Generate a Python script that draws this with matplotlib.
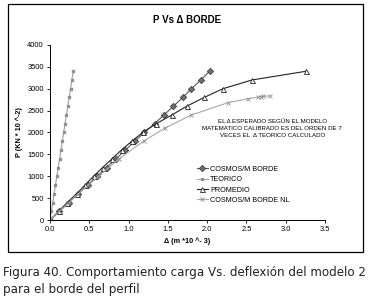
import matplotlib
matplotlib.use("Agg")
import matplotlib.pyplot as plt
from matplotlib.patches import Rectangle

# P load steps (KN * 10^-2)
p_steps = [0, 200, 400, 600, 800, 1000, 1200, 1400, 1600, 1800,
           2000, 2200, 2400, 2600, 2800, 3000, 3200, 3400]

cosmos_d = [0, 0.12, 0.24, 0.36, 0.48, 0.60, 0.72, 0.84, 0.96, 1.08,
            1.20, 1.33, 1.45, 1.57, 1.69, 1.80, 1.92, 2.03]
teorico_d = [0, 0.017, 0.035, 0.052, 0.070, 0.087, 0.104, 0.122, 0.139, 0.157,
             0.174, 0.191, 0.209, 0.226, 0.244, 0.261, 0.278, 0.296]
promedio_d = [0, 0.11, 0.22, 0.34, 0.445, 0.555, 0.67, 0.79, 0.91, 1.04,
              1.18, 1.35, 1.55, 1.74, 1.96, 2.20, 2.57, 3.26]
nl_d = [0, 0.12, 0.24, 0.36, 0.49, 0.62, 0.88, 1.19, 1.46, 1.80,
        2.26, 2.52, 2.65, 2.68, 2.71, 2.80]
nl_p = [0, 200, 400, 600, 800, 1000, 1400, 1800, 2100, 2400,
        2680, 2770, 2810, 2820, 2825, 2835]

plt.rcParams['font.family'] = ['Liberation Sans', 'DejaVu Sans']

fig = plt.figure(figsize=(3.72, 3.04), dpi=100)
fig.patch.set_facecolor('white')

# chart frame
fig.patches.append(Rectangle((0.0215, 0.171), 0.9545, 0.816, transform=fig.transFigure,
                             fill=False, edgecolor='black', linewidth=0.9))

ax = fig.add_axes([0.1344, 0.2763, 0.7393, 0.5757])

ax.plot(cosmos_d, p_steps, color='#555555', lw=0.8, marker='D', ms=3.2,
        mfc='#707070', mec='#404040', mew=0.6, label='COSMOS/M BORDE')
ax.plot(teorico_d, p_steps, color='#a0a0a0', lw=0.8, marker='s', ms=2,
        mfc='#909090', mec='#909090', label='TEORICO')
ax.plot(promedio_d, p_steps, color='#222222', lw=0.8, marker='^', ms=3.6,
        mfc='white', mec='#222222', mew=0.6, label='PROMEDIO')
ax.plot(nl_d, nl_p, color='#a8a8a8', lw=0.8, marker='x', ms=2.5,
        mec='#909090', mew=0.6, label='COSMOS/M BORDE NL')

ax.set_xlim(0, 3.5)
ax.set_ylim(0, 4000)
ax.set_xticks([0, 0.5, 1.0, 1.5, 2.0, 2.5, 3.0, 3.5])
ax.set_xticklabels(['0.0', '0.5', '1.0', '1.5', '2.0', '2.5', '3.0', '3.5'])
ax.set_yticks(range(0, 4001, 500))
ax.tick_params(labelsize=5.4, length=2.5, width=0.6, pad=2)
for s in ['top', 'right']:
    ax.spines[s].set_visible(False)
for s in ['left', 'bottom']:
    ax.spines[s].set_linewidth(0.7)

ax.set_title('P Vs Δ BORDE', fontsize=7, fontweight='bold', pad=16)
ax.set_xlabel('Δ (m *10 ^- 3)', fontsize=5.2, fontweight='bold', labelpad=3)
ax.set_ylabel('P (KN * 10 ^-2)', fontsize=5.2, fontweight='bold', labelpad=3)

ax.text(0.808, 0.52, 'EL Δ ESPERADO SEGÚN EL MODELO\nMATEMATICO CALIBRADO ES DEL ORDEN DE 7\nVECES EL  Δ TEORICO CALCULADO',
        transform=ax.transAxes, ha='center', va='center', fontsize=4.4,
        linespacing=1.5)

ax.legend(loc='upper left', bbox_to_anchor=(0.52, 0.33), fontsize=5.2, frameon=False,
          handlelength=1.6, handletextpad=0.3, labelspacing=0.45, borderpad=0)

fig.text(0.008, 0.105, 'Figura 40. Comportamiento carga Vs. deflexión del modelo 2',
         fontsize=8.6, family='DejaVu Sans', va='center', color='#222222')
fig.text(0.008, 0.047, 'para el borde del perfil',
         fontsize=8.6, family='DejaVu Sans', va='center', color='#222222')

fig.savefig('out.png', dpi=100)
